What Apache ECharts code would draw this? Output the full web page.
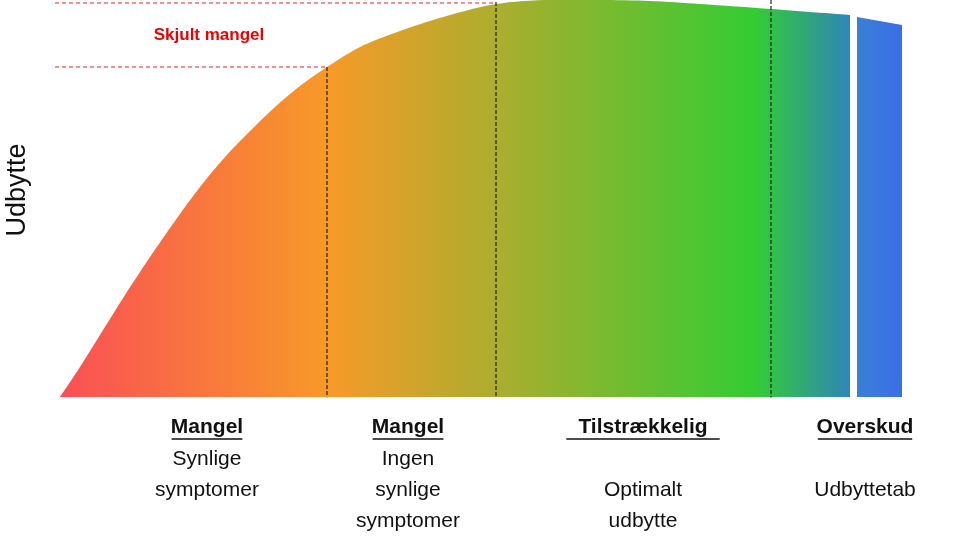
<!DOCTYPE html><html><head><meta charset="utf-8"><script src="https://cdn.jsdelivr.net/npm/echarts@6/dist/echarts.min.js"></script>
<style>html,body{margin:0;background:#fff}#c{width:953px;height:537px}</style></head><body><div id="c"></div><script>
const curveX=[60,80,100,125,150,175,200,225,250,275,300,327,360,400,450,496,550,600,650,700,771,850];
const curveY=[0,30,62,102,140,176,210,240,266,290,311,330,350,366,382,393,397,397,396,393,388,382];
const excessX=[857,902];
const excessY=[380,372];
const boundaries=[327,496,771];
const font='"Liberation Sans", Arial, sans-serif';
const chart=echarts.init(document.getElementById('c'));
function txt(x,y,t,opt){return Object.assign({type:'text',left:null,x:x,y:y,style:{text:t,font:(opt&&opt.bold?'bold ':'')+'21px '+font,fill:'#111',textAlign:'center',textVerticalAlign:'middle'}},{});}
const cols=[[207,['Mangel',null,'Synlige','symptomer']],[408,['Mangel',null,'Ingen','synlige','symptomer']],[643,['Tilstrækkelig',null,'','Optimalt','udbytte']],[865,['Overskud',null,'','Udbyttetab']]];
const graphics=[];
const rows=[427,0,459,490,521];
cols.forEach(([cx,ls])=>{ls.forEach((l,i)=>{if(l===null||l==='')return;const yy=i===0?427:rows[i];
graphics.push({type:'text',x:cx,y:yy,style:{text:l,font:(i===0?'bold ':'')+'21px '+font,fill:'#111',align:'center',verticalAlign:'middle'}});
if(i===0){const w=l.length*11.8;graphics.push({type:'line',shape:{x1:cx-w/2,y1:439,x2:cx+w/2,y2:439},style:{stroke:'#111',lineWidth:1.5}});}
});});
graphics.push({type:'text',x:18,y:190,rotation:Math.PI/2,style:{text:'Udbytte',font:'27px '+font,fill:'#111',align:'center',verticalAlign:'middle'}});
graphics.push({type:'text',x:818,y:190,rotation:Math.PI/2,style:{text:'Udbytte',font:'27px '+font,fill:'#1a2a2a',align:'center',verticalAlign:'middle'}});
graphics.push({type:'text',x:209,y:35,style:{text:'Skjult mangel',font:'bold 17px '+font,fill:'#e00',align:'center',verticalAlign:'middle'}});
function seg(pts,dash,color){return {type:'line',data:pts,symbol:'none',silent:true,lineStyle:{color:color,width:1.2,type:dash},z:5};}
chart.setOption({animation:false,
grid:{left:0,right:0,top:0,bottom:140},
xAxis:{type:'value',min:0,max:953,show:false},
yAxis:{type:'value',min:0,max:397,show:false},
graphic:graphics,
series:[
{type:'line',data:curveX.map((x,i)=>[x,curveY[i]]),symbol:'none',smooth:0.3,lineStyle:{width:0},
areaStyle:{opacity:1,color:new echarts.graphic.LinearGradient(0,0,1,0,[{offset:0,color:'#fa4f55'},{offset:0.34,color:'#f79a28'},{offset:0.56,color:'#a9ae2e'},{offset:0.88,color:'#33cc33'},{offset:1,color:'#2f86b8'}])}},
{type:'line',data:excessX.map((x,i)=>[x,excessY[i]]),symbol:'none',lineStyle:{width:0},
areaStyle:{opacity:1,color:new echarts.graphic.LinearGradient(0,0,1,0,[{offset:0,color:'#3a80d6'},{offset:1,color:'#3a6ee8'}])}},
seg([[boundaries[0],330],[boundaries[0],-140]],[4,2],'#222'),
seg([[boundaries[1],395],[boundaries[1],-140]],[4,2],'#222'),
seg([[boundaries[2],397],[boundaries[2],-140]],[4,2],'#222'),
seg([[55,330],[boundaries[0],330]],[4,3],'#e22'),
seg([[55,394],[boundaries[1],394]],[4,3],'#e22')
]});
</script></body></html>
